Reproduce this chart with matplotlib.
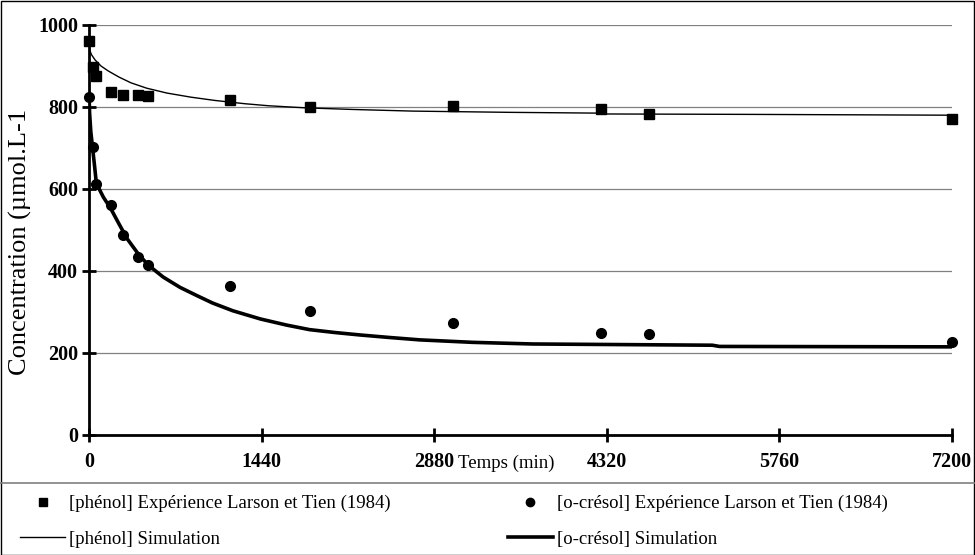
import matplotlib
matplotlib.use("Agg")
import matplotlib.pyplot as plt
from matplotlib.lines import Line2D
from matplotlib.patches import Rectangle

# experimental points (Larson et Tien, 1984)
t_exp = [0, 30, 60, 180, 285, 410, 490, 1180, 1840, 3040, 4270, 4670, 7200]
phenol_exp = [960, 898, 876, 837, 829, 829, 827, 817, 800, 802, 795, 783, 771]
cresol_exp = [825, 702, 612, 561, 488, 434, 415, 363, 302, 273, 249, 246, 227]

# simulation curves
phenol_sim_t = [0, 5, 20, 50, 100, 160, 250, 350, 480, 650, 850, 1050, 1300, 1500,
                1800, 2200, 2700, 3500, 4270, 4300, 5500, 7200]
phenol_sim = [952, 940, 928, 915, 900, 888, 873, 859, 846, 834, 824, 816, 808, 803,
              798, 794, 790, 787, 785, 783, 782, 780]
cresol_sim_t = [0, 5, 15, 30, 45, 60, 80, 120, 180, 250, 320, 420, 500, 620, 760, 900,
                1030, 1200, 1430, 1650, 1840, 2050, 2260, 2500, 2760, 3200, 3700, 5200,
                5260, 7200]
cresol_sim = [830, 785, 740, 700, 660, 618, 603, 580, 553, 515, 478, 438, 413, 385, 360,
              340, 322, 303, 283, 268, 257, 250, 244, 238, 232, 226, 222, 219, 216, 215]

x_ticks = [0, 1440, 2880, 4320, 5760, 7200]
y_ticks = [0, 200, 400, 600, 800, 1000]

plt.rcParams['font.family'] = ['Liberation Serif', 'DejaVu Serif']

W, H = 975, 555
fig = plt.figure(figsize=(W / 100, H / 100), dpi=100)
ax = fig.add_axes([89 / W, 120 / H, (952 - 89) / W, 410 / H])

ax.yaxis.grid(True, color='#808080', lw=0.9)
ax.set_axisbelow(True)

ax.plot(phenol_sim_t, phenol_sim, color='black', lw=1.0, zorder=3)
ax.plot(cresol_sim_t, cresol_sim, color='black', lw=2.6, zorder=3)
ax.plot(t_exp, phenol_exp, 's', color='black', ms=7.8, zorder=4, clip_on=False)
ax.plot(t_exp, cresol_exp, 'o', color='black', ms=7, zorder=4, clip_on=False)

ax.set_xlim(0, 7200)
ax.set_ylim(0, 1000)
ax.set_xticks(x_ticks)
ax.set_yticks(y_ticks)
ax.tick_params(direction='inout', length=10, width=2, labelsize=14.5)
ax.tick_params(axis='x', pad=7)
ax.tick_params(axis='y', pad=3)
for lab in ax.get_xticklabels() + ax.get_yticklabels():
    lab.set_fontweight('bold')

for s in ['top', 'right']:
    ax.spines[s].set_visible(False)
for s in ['left', 'bottom']:
    ax.spines[s].set_linewidth(2)

fig.text(20 / W, 1 - 242 / H, 'Concentration (µmol.L-1', rotation=90,
         ha='center', va='center', fontsize=19)
fig.text(458 / W, 1 - 463 / H, 'Temps (min)', ha='left', va='center', fontsize=13.5)

# frame and separator
fig.patches.append(Rectangle((0.5 / W, 0.5 / H), (W - 1.5) / W, (H - 1.5) / H,
                             transform=fig.transFigure, fill=False, ec='black', lw=1))
fig.lines.append(Line2D([0, 1], [1 - 483 / H] * 2, transform=fig.transFigure,
                        color='#808080', lw=1.2))

h1 = [Line2D([], [], ls='none', marker='s', color='black', ms=6),
      Line2D([], [], color='black', lw=1.0)]
h2 = [Line2D([], [], ls='none', marker='o', color='black', ms=6),
      Line2D([], [], color='black', lw=2.6)]
kw = dict(frameon=False, fontsize=13.5, handlelength=2.4, handletextpad=0.2,
          labelspacing=0.97, borderaxespad=0, borderpad=0, loc='upper left')
fig.legend(h1, ['[phénol] Expérience Larson et Tien (1984)', '[phénol] Simulation'],
           bbox_to_anchor=(20 / W, 1 - 495 / H), **kw)
fig.legend(h2, ['[o-crésol] Expérience Larson et Tien (1984)', '[o-crésol] Simulation'],
           bbox_to_anchor=(508 / W, 1 - 495 / H), **kw)

fig.savefig('out.png', dpi=100)
